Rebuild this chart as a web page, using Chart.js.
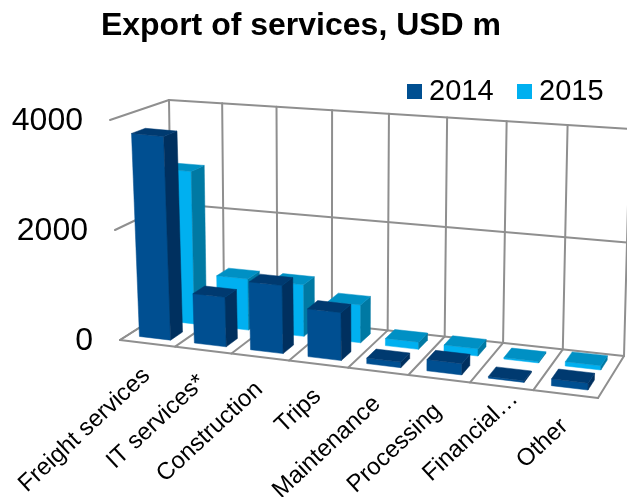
<!DOCTYPE html>
<html>
<head>
<meta charset="utf-8">
<title>Export of services</title>
<script src="https://cdn.jsdelivr.net/npm/chart.js@4"></script>
<style>
  body { margin: 0; background: #fff; }
  canvas { display: block; }
</style>
</head>
<body>
<canvas id="chart" width="627" height="497"></canvas>
<script>
const categories = ["Freight services", "IT services*", "Construction", "Trips", "Maintenance", "Processing", "Financial…", "Other"];
const series2014 = [3720, 900, 1230, 860, 100, 200, 30, 120];
const series2015 = [2860, 950, 950, 690, 130, 130, 25, 75];
const valueTicks = [0, 2000, 4000];

const FONT = "'Liberation Sans', Arial, sans-serif";
const GRID = "#8f8f8f";

// corners of the plot box on screen: front/back, floor/top, left/right
const box = {
  ffl: [120, 340], ffr: [598, 398], fbl: [172, 307], fbr: [624, 356],
  tfl: [110, 120], tfr: [606, 170], tbl: [169, 100], tbr: [630, 129],
};

const mix = (a, b, t) => [a[0] + (b[0] - a[0]) * t, a[1] + (b[1] - a[1]) * t];

// u along categories, v up the value axis, w into the depth, all 0..1
const project = (u, v, w) => {
  const s = u / (1 + 0.096 * (1 - u)); // right side is nearer to the camera
  const floor = mix(mix(box.ffl, box.ffr, s), mix(box.fbl, box.fbr, s), w);
  const top = mix(mix(box.tfl, box.tfr, s), mix(box.tbl, box.tbr, s), w);
  return mix(floor, top, v);
};

const polygon = (ctx, points, color) => {
  ctx.beginPath();
  points.forEach((p, i) => (i ? ctx.lineTo(p[0], p[1]) : ctx.moveTo(p[0], p[1])));
  ctx.closePath();
  ctx.fillStyle = color;
  ctx.strokeStyle = color;
  ctx.lineWidth = 0.5;
  ctx.fill();
  ctx.stroke();
};

const line = (ctx, a, b) => {
  ctx.beginPath();
  ctx.moveTo(a[0], a[1]);
  ctx.lineTo(b[0], b[1]);
  ctx.stroke();
};

// bars keep their layout from the normal bar controller, only the painting differs
class Box3dController extends Chart.BarController {
  draw() {
    const ctx = this.chart.ctx;
    const meta = this._cachedMeta;
    const ds = this.getDataset();
    const { x: xScale, y: yScale } = this.chart.scales;
    const w0 = ds.depth - 0.12;
    const w1 = ds.depth + 0.12;

    meta.data.forEach((bar) => {
      const u0 = (bar.x - bar.width / 2 - xScale.left) / xScale.width;
      const u1 = (bar.x + bar.width / 2 - xScale.left) / xScale.width;
      const v = (yScale.bottom - bar.y) / yScale.height;

      polygon(ctx, [project(u0, 0, w0), project(u1, 0, w0), project(u1, v, w0), project(u0, v, w0)], ds.backgroundColor);
      polygon(ctx, [project(u1, 0, w0), project(u1, 0, w1), project(u1, v, w1), project(u1, v, w0)], ds.sideColor);
      polygon(ctx, [project(u0, v, w0), project(u1, v, w0), project(u1, v, w1), project(u0, v, w1)], ds.topColor);
    });
  }
}
Box3dController.id = "box3d";
Box3dController.defaults = Chart.BarController.defaults;
Chart.register(Box3dController);

const wallsAndLabels = {
  id: "wallsAndLabels",
  beforeDatasetsDraw(chart) {
    const ctx = chart.ctx;
    const { y: yScale } = chart.scales;
    ctx.save();
    ctx.strokeStyle = GRID;
    ctx.lineWidth = 2;
    ctx.lineCap = "round";
    yScale.ticks.forEach((tick) => {
      const v = (yScale.bottom - yScale.getPixelForValue(tick.value)) / yScale.height;
      line(ctx, project(0, v, 0), project(0, v, 1));
      line(ctx, project(0, v, 1), project(1, v, 1));
    });
    line(ctx, project(0, 0, 0), project(1, 0, 0));
    for (let i = 0; i <= categories.length; i++) {
      const u = i / categories.length;
      line(ctx, project(u, 0, 0), project(u, 0, 1));
      line(ctx, project(u, 0, 1), project(u, 1, 1));
    }
    ctx.restore();
  },
  afterDatasetsDraw(chart) {
    const ctx = chart.ctx;
    const { x: xScale, y: yScale } = chart.scales;
    ctx.save();
    ctx.fillStyle = "#000";

    // value labels follow the leaning front edge of the left wall
    ctx.font = "32px " + FONT;
    ctx.textAlign = "right";
    ctx.textBaseline = "middle";
    yScale.ticks.forEach((tick) => {
      const v = (yScale.bottom - yScale.getPixelForValue(tick.value)) / yScale.height;
      const p = project(0, v, 0);
      ctx.fillText(String(tick.value), p[0] - 27, p[1] + 1);
    });

    // category labels hang under the front edge of the floor
    ctx.font = "24px " + FONT;
    xScale.ticks.forEach((tick, i) => {
      const u = (xScale.getPixelForTick(i) - xScale.left) / xScale.width;
      const p = project(u, 0, 0);
      // the shortened label sits higher in the original
      const shortened = tick.label.endsWith("…");
      ctx.save();
      ctx.translate(p[0] + (shortened ? 13 : -1), p[1] + (shortened ? 9 : 29));
      ctx.rotate(-43 * Math.PI / 180);
      ctx.fillText(tick.label, 0, 0);
      ctx.restore();
    });

    // legend
    ctx.font = "29px " + FONT;
    ctx.textAlign = "left";
    [407, 517].forEach((left, i) => {
      const ds = chart.data.datasets[i];
      ctx.fillStyle = ds.backgroundColor;
      ctx.fillRect(left, 84, 15, 15);
      ctx.fillStyle = "#000";
      ctx.fillText(ds.label, left + 22, 92);
    });
    ctx.restore();
  },
};

new Chart(document.getElementById("chart"), {
  type: "box3d",
  data: {
    labels: categories,
    datasets: [
      { label: "2014", data: series2014, depth: 0.27, backgroundColor: "#004f91", sideColor: "#00305f", topColor: "#003a70", clip: false, barPercentage: 0.57, categoryPercentage: 1, grouped: false },
      { label: "2015", data: series2015, depth: 0.75, backgroundColor: "#00b0f0", sideColor: "#0079a3", topColor: "#0090c4", clip: false, barPercentage: 0.57, categoryPercentage: 1, grouped: false },
    ],
  },
  options: {
    responsive: false,
    animation: false,
    layout: { padding: { right: 25 } },
    plugins: {
      legend: { display: false },
      tooltip: { enabled: false },
      title: {
        display: true,
        text: "Export of services, USD m",
        color: "#000",
        font: { family: FONT, size: 32, weight: "bold" },
        padding: { top: 7, bottom: 70 },
      },
    },
    scales: {
      x: {
        grid: { display: false },
        border: { display: false },
        ticks: { display: false, autoSkip: false },
      },
      y: {
        min: 0,
        max: 4000,
        afterBuildTicks: (scale) => { scale.ticks = valueTicks.map((value) => ({ value })); },
        grid: { display: false },
        border: { display: false },
        ticks: { display: false, stepSize: 2000 },
      },
    },
  },
  plugins: [wallsAndLabels],
});
</script>
</body>
</html>
